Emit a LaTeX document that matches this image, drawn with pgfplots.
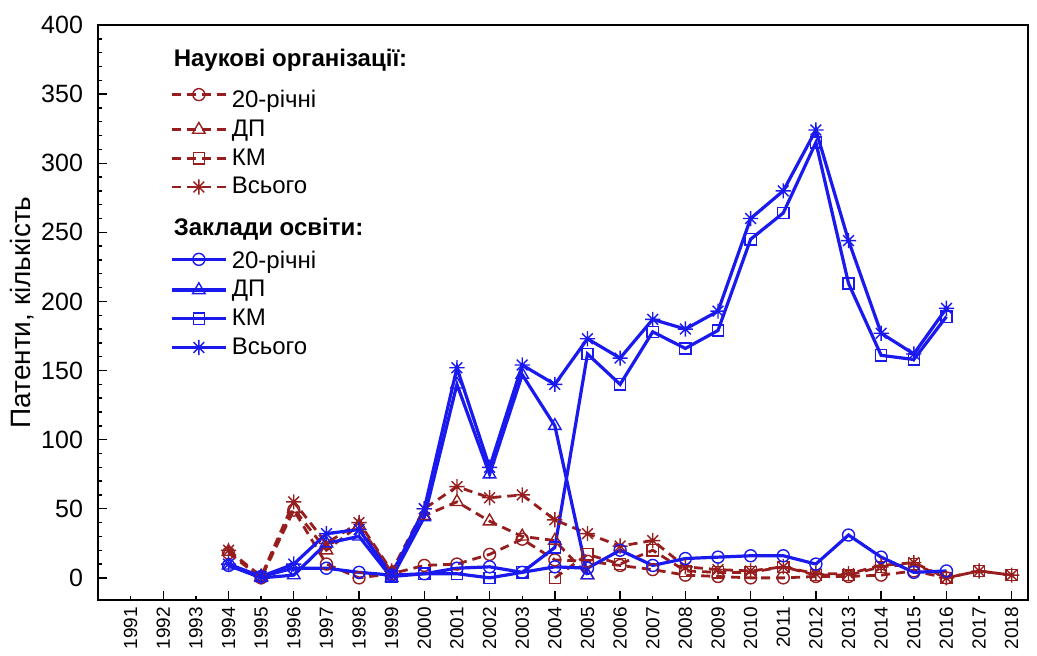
\documentclass[border=0pt]{standalone}
\usepackage{fontspec}
\setmainfont{Liberation Sans}
\usepackage{pgfplots}
\pgfplotsset{compat=1.18}
\usetikzlibrary{plotmarks}
\definecolor{orgRed}{HTML}{961E1E}
\definecolor{eduBlue}{HTML}{1A1AEE}

% eight-armed asterisk like the original
\pgfdeclareplotmark{ast8}{%
  \pgfpathmoveto{\pgfpoint{0pt}{\pgfplotmarksize}}\pgfpathlineto{\pgfpoint{0pt}{-\pgfplotmarksize}}%
  \pgfpathmoveto{\pgfpoint{\pgfplotmarksize}{0pt}}\pgfpathlineto{\pgfpoint{-\pgfplotmarksize}{0pt}}%
  \pgfpathmoveto{\pgfpoint{0.707\pgfplotmarksize}{0.707\pgfplotmarksize}}\pgfpathlineto{\pgfpoint{-0.707\pgfplotmarksize}{-0.707\pgfplotmarksize}}%
  \pgfpathmoveto{\pgfpoint{-0.707\pgfplotmarksize}{0.707\pgfplotmarksize}}\pgfpathlineto{\pgfpoint{0.707\pgfplotmarksize}{-0.707\pgfplotmarksize}}%
  \pgfusepathqstroke}

\pgfplotsset{
  org/.style={orgRed, line width=1.4pt, dash pattern=on 4.5pt off 3pt,
    mark options={solid, fill=white, line width=0.7pt}},
  edu/.style={eduBlue, line width=1.6pt,
    mark options={solid, fill=white, line width=0.7pt}},
}

\begin{document}
\begin{tikzpicture}
\begin{axis}[
  scale only axis, width=465pt, height=287.5pt,
  xmin=1990, xmax=2018.5, ymin=-16, ymax=400,
  axis line style={black, line width=0.8pt},
  tick style={black, line width=0.7pt},
  tick align=inside, xtick pos=bottom, ytick pos=left,
  xtick={1992,1994,...,2018}, minor x tick num=1,
  extra x ticks={1991,1993,...,2017},
  extra x tick style={major tick length=2.2pt},
  x tick label style={rotate=90, anchor=east, font=\fontsize{9.5}{10}\selectfont},
  xticklabel style={/pgf/number format/1000 sep={}},
  ytick={0,50,...,400}, minor y tick num=4,
  major tick length=4.5pt, minor tick length=2.2pt,
  y tick label style={font=\fontsize{12.5}{14}\selectfont},
  yticklabel style={xshift=-4pt},
  /pgf/number format/assume math mode=true,
  ylabel={Патенти, кількість},
  ylabel style={font=\fontsize{14}{16}\selectfont, yshift=-3.5pt},
  legend style={at={(0.0705,0.973)}, anchor=north west, draw=none, fill=none,
    font=\fontsize{12}{14}\selectfont, row sep=0.6pt, cells={anchor=west}},
  legend image code/.code={%
    \draw[mark repeat=2, mark phase=2] plot coordinates {(0cm,0cm) (0.48cm,0cm) (0.96cm,0cm)};},
  clip=false,
]
\addlegendimage{empty legend}
\addlegendentry{\hspace*{-29pt}\textbf{Наукові організації:}}

\addplot[org, mark=o, mark size=3pt] coordinates {
 (1994,18)(1995,0)(1996,49)(1997,10)(1998,0)(1999,3)(2000,9)(2001,10)(2002,17)(2003,28)
 (2004,13)(2005,12)(2006,9)(2007,6)(2008,2)(2009,1)(2010,0)(2011,0)(2012,1)(2013,1)
 (2014,2)(2015,5)(2016,0)};
\addlegendentry{\rule{0pt}{14.6pt}20-річні}
\addplot[org, mark=triangle, mark size=3.6pt] coordinates {
 (1994,19)(1995,1)(1996,50)(1997,20)(1998,38)(1999,4)(2000,45)(2001,55)(2002,41)(2003,30)
 (2004,27)(2005,2)};
\addlegendentry{ДП}
\addplot[org, mark=square, mark size=2.8pt] coordinates {
 (2004,0)(2005,17)(2006,10)(2007,20)(2008,5)(2009,4)(2010,4)(2011,8)(2012,2)(2013,2)
 (2014,8)(2015,10)(2016,0)(2017,5)(2018,2)};
\addlegendentry{КМ}
\addplot[org, mark=ast8, mark size=3.8pt] coordinates {
 (1994,20)(1995,1)(1996,55)(1997,25)(1998,40)(1999,5)(2000,50)(2001,66)(2002,58)(2003,60)
 (2004,42)(2005,32)(2006,23)(2007,27)(2008,8)(2009,6)(2010,5)(2011,8)(2012,3)(2013,3)
 (2014,9)(2015,11)(2016,0)(2017,5)(2018,2)};
\addlegendentry{Всього}

\addlegendimage{empty legend}
\addlegendentry{\hspace*{-29pt}\rule{0pt}{14.7pt}\textbf{Заклади освіти:}}

\addplot[edu, mark=o, mark size=3pt] coordinates {
 (1994,9)(1995,1)(1996,7)(1997,7)(1998,4)(1999,2)(2000,3)(2001,7)(2002,8)(2003,4)
 (2004,8)(2005,7)(2006,20)(2007,9)(2008,14)(2009,15)(2010,16)(2011,16)(2012,10)(2013,31)
 (2014,15)(2015,4)(2016,5)};
\addlegendentry{\rule{0pt}{10.2pt}20-річні}
\addplot[edu, mark=triangle, mark size=3.6pt] coordinates {
 (1994,9)(1995,0)(1996,2)(1997,25)(1998,30)(1999,0)(2000,44)(2001,140)(2002,75)(2003,147)
 (2004,110)(2005,2)};
\addlegendentry{ДП}
\addplot[edu, mark=square, mark size=2.8pt] coordinates {
 (1999,1)(2000,3)(2001,3)(2002,0)(2003,4)(2004,22)(2005,162)(2006,140)(2007,178)(2008,166)
 (2009,179)(2010,245)(2011,264)(2012,315)(2013,213)(2014,161)(2015,158)(2016,189)};
\addlegendentry{КМ}
\addplot[edu, mark=ast8, mark size=3.8pt] coordinates {
 (1994,10)(1995,1)(1996,10)(1997,32)(1998,35)(1999,2)(2000,50)(2001,152)(2002,80)(2003,154)
 (2004,140)(2005,173)(2006,159)(2007,187)(2008,180)(2009,193)(2010,260)(2011,280)(2012,324)
 (2013,244)(2014,177)(2015,162)(2016,195)};
\addlegendentry{Всього}

% white margins as in the original picture
\path (rel axis cs:0,1) ++(-49pt,12.5pt);
\path (rel axis cs:1,0) ++(4.5pt,0pt);
\end{axis}
\end{tikzpicture}
\end{document}
